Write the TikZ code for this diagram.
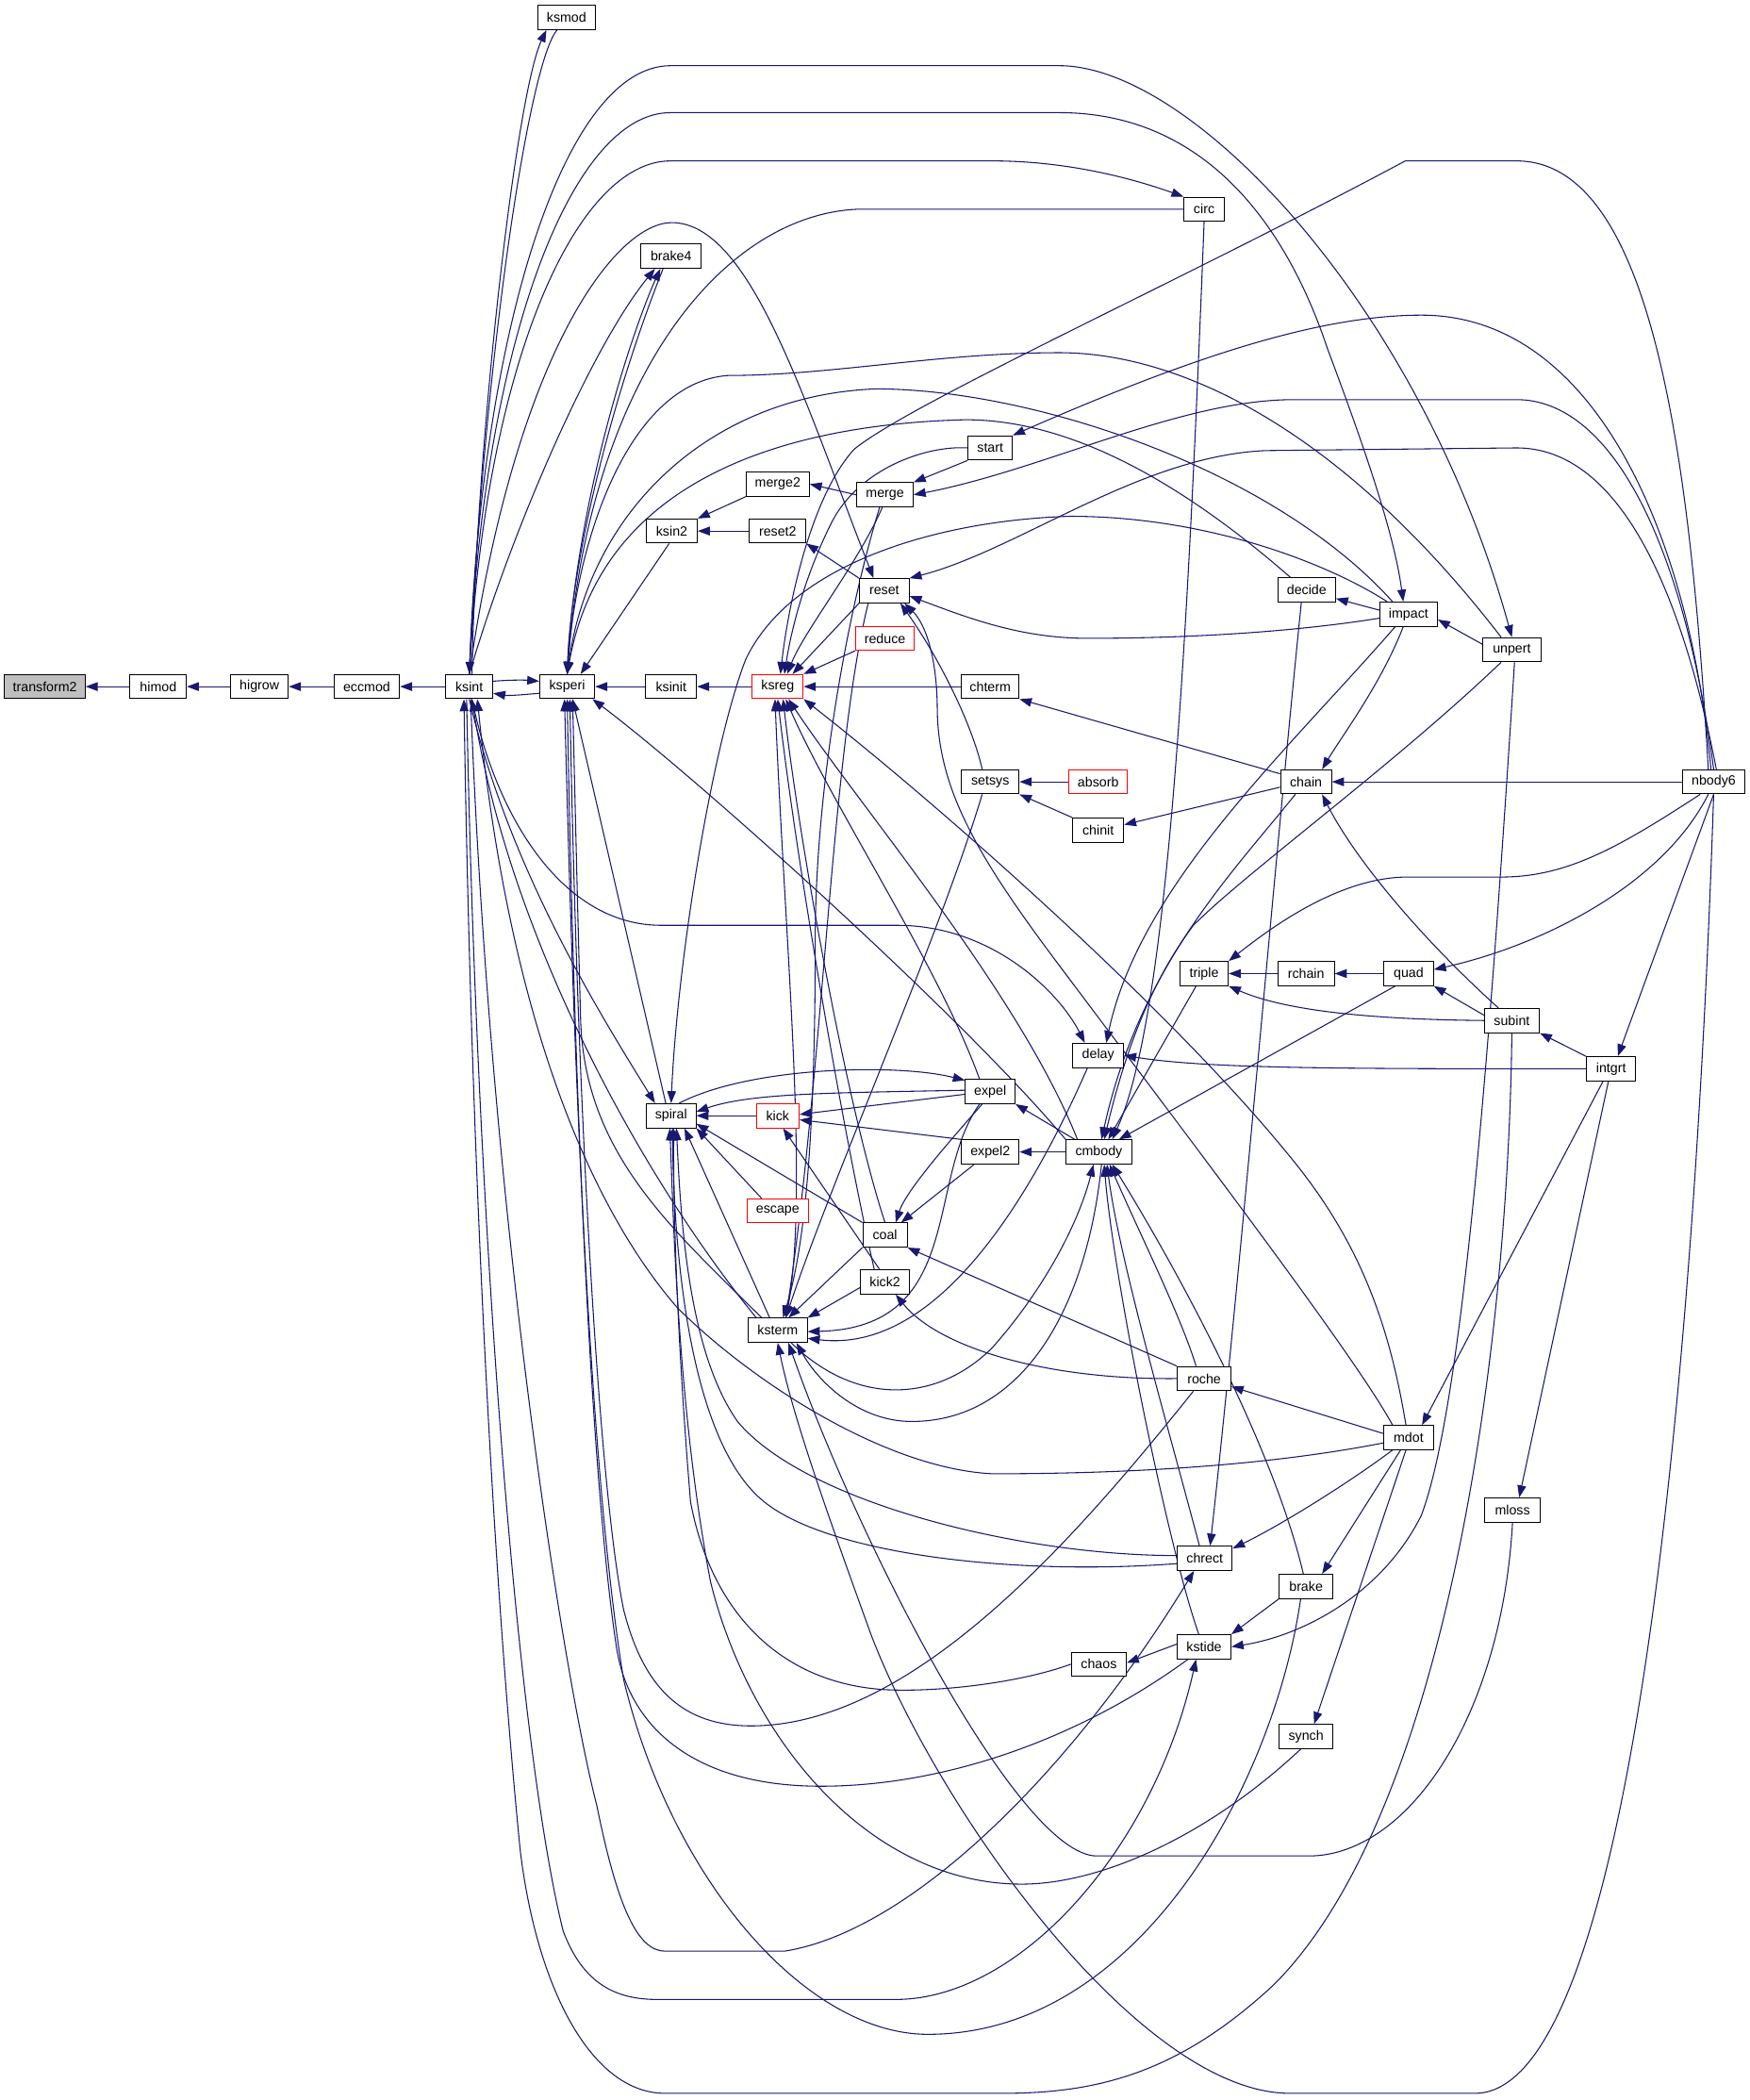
\documentclass[tikz,border=0pt]{standalone}
\usepackage{fontspec}
\setmainfont{Liberation Sans}
\usetikzlibrary{arrows.meta,backgrounds}
\pgfdeclarelayer{bottomlayer}
\pgfsetlayers{bottomlayer,background,main}
\definecolor{eb}{RGB}{25,25,112}
\definecolor{nodegray}{RGB}{191,191,191}
\tikzset{
 fn/.style={draw=black, line width=0.7pt, fill=white, minimum height=18pt, inner sep=0pt, font=\fontsize{10}{11}\selectfont},
 fnred/.style={fn, draw=red},
 fncur/.style={fn, fill=nodegray},
 e/.style={draw=eb, line width=0.75pt, -{Triangle[length=9pt,width=6.5pt]}},
}
\begin{document}
\begin{tikzpicture}[x=1pt,y=-1pt]
\useasboundingbox (0,0) rectangle (1305,1566);
\begin{pgfonlayer}{bottomlayer}
\fill[white] (0,0) rectangle (1305,1566);
\end{pgfonlayer}
% ---------------- nodes ----------------
\node[fncur, minimum width=60pt] (transform2) at (33.5,512) {transform2};
\node[fn, minimum width=42pt] (himod) at (118,512) {himod};
\node[fn, minimum width=43pt] (higrow) at (193.5,512) {higrow};
\node[fn, minimum width=49pt] (eccmod) at (273.5,512) {eccmod};
\node[fn, minimum width=35pt] (ksint) at (350,512) {ksint};
\node[fn, minimum width=41pt] (ksperi) at (423,512) {ksperi};
\node[fn, minimum width=38pt] (ksinit) at (500.5,512) {ksinit};
\node[fnred, minimum width=38pt] (ksreg) at (580,512) {ksreg};
\node[fn, minimum width=43pt] (chterm) at (738.5,512) {chterm};
\node[fn, minimum width=43pt] (ksmod) at (422.5,13) {ksmod};
\node[fn, minimum width=45pt] (brake4) at (500.5,191) {brake4};
\node[fn, minimum width=30pt] (circ) at (898,156) {circ};
\node[fn, minimum width=47pt] (merge2) at (580,361) {merge2};
\node[fn, minimum width=38pt] (ksin2) at (501,396) {ksin2};
\node[fn, minimum width=42pt] (reset2) at (580,396) {reset2};
\node[fn, minimum width=33pt] (start) at (738.5,334) {start};
\node[fn, minimum width=42pt] (merge) at (660,369) {merge};
\node[fn, minimum width=37pt] (reset) at (659.5,440.5) {reset};
\node[fnred, minimum width=44pt] (reduce) at (660,476) {reduce};
\node[fn, minimum width=43pt] (decide) at (974.5,440) {decide};
\node[fn, minimum width=43pt] (impact) at (1050.5,458) {impact};
\node[fn, minimum width=43pt] (unpert) at (1127.5,484.5) {unpert};
\node[fn, minimum width=43pt] (setsys) at (738.5,583) {setsys};
\node[fnred, minimum width=44pt] (absorb) at (819,583) {absorb};
\node[fn, minimum width=38pt] (chinit) at (819,619) {chinit};
\node[fn, minimum width=38pt] (chain) at (974,583) {chain};
\node[fn, minimum width=46pt] (nbody6) at (1278,583) {nbody6};
\node[fn, minimum width=36pt] (triple) at (898,726) {triple};
\node[fn, minimum width=42pt] (rchain) at (974,726) {rchain};
\node[fn, minimum width=37pt] (quad) at (1050.5,726) {quad};
\node[fn, minimum width=41pt] (subint) at (1127.5,761) {subint};
\node[fn, minimum width=38pt] (delay) at (819,787) {delay};
\node[fn, minimum width=37pt] (intgrt) at (1201.5,797) {intgrt};
\node[fn, minimum width=37pt] (spiral) at (500.5,832) {spiral};
\node[fnred, minimum width=32pt] (kick) at (580,832) {kick};
\node[fn, minimum width=37pt] (expel) at (738.5,814) {expel};
\node[fn, minimum width=43pt] (expel2) at (738.5,859) {expel2};
\node[fn, minimum width=49pt] (cmbody) at (819.5,859) {cmbody};
\node[fnred, minimum width=46pt] (escape) at (580,903) {escape};
\node[fn, minimum width=33pt] (coal) at (660,921) {coal};
\node[fn, minimum width=36pt] (kick2) at (660,956) {kick2};
\node[fn, minimum width=44pt] (ksterm) at (580,992) {ksterm};
\node[fn, minimum width=40pt] (roche) at (898,1028) {roche};
\node[fn, minimum width=37pt] (mdot) at (1050.5,1072) {mdot};
\node[fn, minimum width=41pt] (mloss) at (1128,1126) {mloss};
\node[fn, minimum width=41pt] (chrect) at (898.5,1162) {chrect};
\node[fn, minimum width=40pt] (brake) at (974,1183) {brake};
\node[fn, minimum width=40pt] (kstide) at (898,1228) {kstide};
\node[fn, minimum width=41pt] (chaos) at (819.5,1241) {chaos};
\node[fn, minimum width=40pt] (synch) at (974,1295) {synch};
% ---------------- edges ----------------
\begin{scope}[on background layer]
% main chain
\draw[e] (himod) -- (transform2);
\draw[e] (higrow) -- (himod);
\draw[e] (eccmod) -- (higrow);
\draw[e] (ksint) -- (eccmod);
\draw[e] (ksinit) -- (ksperi);
\draw[e] (ksreg) -- (ksinit);
\draw[e] (chterm) -- (ksreg);
\draw[e] ([yshift=4pt]ksint.east) .. controls (380,507) and (390,507) .. ([yshift=4pt]ksperi.west);
\draw[e] ([yshift=-5pt]ksperi.west) .. controls (390,518) and (380,519) .. ([yshift=-5pt]ksint.east);
% ksmod
\draw[e] ([xshift=2pt]ksint.north) .. controls (355,330) and (385,70) .. ([xshift=-15pt]ksmod.south);
\draw[e] ([xshift=-7pt]ksmod.south) .. controls (395,45) and (362,260) .. (ksint.north);
% long top curves from ksint
\draw[e] (ksint.north) .. controls (358,250) and (420,49) .. (500,49) -- (790,49) .. controls (890,49) and (1060,230) .. (unpert.north);
\draw[e] (ksint.north) .. controls (360,260) and (425,84) .. (500,84) -- (790,84) .. controls (900,84) and (960,170) .. (990,260) .. controls (1020,340) and (1040,400) .. ([xshift=-4pt]impact.north);
\draw[e] (ksint.north) .. controls (362,270) and (430,120) .. (500,120) -- (740,120) .. controls (800,120) and (850,135) .. (circ.north west);
\draw[e] (circ.west) -- (640,156) .. controls (540,160) and (440,280) .. (ksperi.north);
\draw[e] (ksint.north) .. controls (385,260) and (460,166) .. (501,166) .. controls (560,166) and (600,300) .. ([xshift=-8pt]reset.north);
\draw[e] (ksint.north) .. controls (380,400) and (440,260) .. ([xshift=-12pt]brake4.south);
\draw[e] (ksperi.north) .. controls (428,380) and (470,250) .. ([xshift=-8pt]brake4.south);
\draw[e] ([xshift=-6pt]brake4.south) .. controls (455,300) and (426,420) .. (ksperi.north);
% curves into ksperi top
\draw[e] ([xshift=-8pt]unpert.north) .. controls (1000,320) and (880,263) .. (790,263) .. controls (700,263) and (620,280) .. (543,280) .. controls (470,285) and (430,400) .. (ksperi.north);
\draw[e] ([xshift=-12pt]impact.north) .. controls (950,350) and (770,290) .. (653,290) .. controls (530,295) and (440,380) .. (ksperi.north);
\draw[e] ([xshift=-12pt]decide.north) .. controls (870,350) and (790,313) .. (720,313) .. controls (600,316) and (450,350) .. (ksperi.north);
\draw[e] ([xshift=-16pt]impact.north) .. controls (990,420) and (900,385) .. (798,385) .. controls (700,388) and (590,420) .. (556,492) .. controls (530,560) and (505,720) .. (spiral.north);
\draw[e] ([xshift=-2pt]ksin2.south) -- ([xshift=10pt]ksperi.north);
% nbody6 top curves
\draw[e] ([xshift=-4pt]nbody6.north) .. controls (1260,330) and (1230,120) .. (1131,120) -- (1048,120) .. controls (880,210) and (680,300) .. (637,335) .. controls (605,370) and (588,450) .. ([xshift=2pt]ksreg.north);
\draw[e] ([xshift=-2pt]nbody6.north) .. controls (1260,400) and (1190,235) .. (1060,235) .. controls (980,235) and (880,270) .. (start.north east);
\draw[e] (nbody6.north) .. controls (1255,400) and (1200,298) .. (1131,298) -- (965,298) .. controls (880,298) and (780,350) .. (merge.east);
\draw[e] ([xshift=2pt]nbody6.north) .. controls (1250,420) and (1200,334) .. (1131,334) -- (944,336) .. controls (850,340) and (760,410) .. (reset.north east);
% start / merge / reset group
\draw[e] (start.west) .. controls (690,332) and (640,350) .. (620,390) .. controls (600,430) and (590,470) .. ([xshift=5pt]ksreg.north);
\draw[e] (start.south west) -- (merge.north east);
\draw[e] (merge.west) -- (merge2.east);
\draw[e] (merge2.south west) -- (ksin2.north east);
\draw[e] (reset2) -- (ksin2);
\draw[e] (reset.north west) -- (reset2.south east);
\draw[e] ([xshift=-2pt]merge.south) .. controls (640,420) and (600,470) .. ([xshift=7pt]ksreg.north);
\draw[e] (reset.south west) -- ([xshift=11pt]ksreg.north);
\draw[e] (reduce.south west) -- (ksreg.north east);
\draw[e] ([yshift=-3pt]impact.west) .. controls (960,472) and (880,476) .. (811,476) .. controls (760,476) and (720,460) .. ([yshift=-4pt]reset.east);
\draw[e] ([yshift=3pt]impact.west) -- ([yshift=3pt]decide.south east);
\draw[e] ([yshift=4pt]unpert.west) -- ([yshift=-4pt]impact.east);
% setsys / chain
\draw[e] (absorb) -- (setsys);
\draw[e] (chinit.north west) -- (setsys.south east);
\draw[e] ([yshift=-4pt]chain.west) -- ([yshift=4pt]chinit.east);
\draw[e] (nbody6) -- (chain);
\draw[e] ([yshift=6pt]chain.west) -- (chterm.south east);
\draw[e] ([xshift=-4pt]impact.south) .. controls (1030,510) and (1000,550) .. ([xshift=12pt]chain.north);
\draw[e] ([xshift=-10pt]subint.north) .. controls (1060,700) and (1010,640) .. ([xshift=12pt]chain.south);
% into cmbody top / delay
\draw[e] (circ.south) .. controls (885,500) and (870,760) .. ([xshift=10pt]cmbody.north);
\draw[e] ([xshift=-10pt]impact.south) .. controls (960,560) and (850,660) .. ([xshift=6pt]delay.north);
\draw[e] ([xshift=-8pt]unpert.south) .. controls (1040,570) and (930,650) .. (890,690) .. controls (860,730) and (840,780) .. ([xshift=4pt]cmbody.north);
\draw[e] ([xshift=-8pt]chain.south) .. controls (920,650) and (850,720) .. ([xshift=2pt]cmbody.north);
\draw[e] ([xshift=-6pt]triple.south) -- ([xshift=7pt]cmbody.north);
\draw[e] ([xshift=-10pt]quad.south) -- ([xshift=15pt]cmbody.north);
% triple / quad / subint / intgrt
\draw[e] (rchain) -- (triple);
\draw[e] (quad) -- (rchain);
\draw[e] (subint.west) .. controls (1000,760) and (950,750) .. (triple.south east);
\draw[e] ([yshift=4pt]subint.west) -- (quad.south east);
\draw[e] (intgrt.north west) -- (subint.south east);
\draw[e] (intgrt.west) .. controls (1000,797) and (900,797) .. (delay.east);
\draw[e] ([xshift=-10pt]nbody6.south) .. controls (1210,630) and (1170,654) .. (1120,654) -- (1050,654) .. controls (1000,654) and (950,690) .. (triple.north east);
\draw[e] ([xshift=-4pt]nbody6.south) .. controls (1240,660) and (1150,705) .. ([yshift=3pt]quad.east);
\draw[e] (nbody6.south) -- ([xshift=5pt]intgrt.north);
\draw[e] ([xshift=-6pt]intgrt.south) -- ([xshift=10pt]mdot.north);
\draw[e] ([xshift=-2pt]intgrt.south) -- ([xshift=5pt]mloss.north);
% reset / ksreg from below right
\draw[e] ([xshift=-6pt]setsys.north) .. controls (725,540) and (700,490) .. ([xshift=12pt]reset.south);
\draw[e] ([xshift=-12pt]mdot.north) .. controls (1010,1010) and (880,840) .. (790,720) .. controls (730,640) and (700,590) .. (699,530) .. controls (699,490) and (690,465) .. ([xshift=15pt]reset.south);
\draw[e] ([xshift=-2pt]mdot.north) .. controls (1035,980) and (1010,920) .. (960,860) .. controls (870,750) and (700,600) .. (ksreg.south east);
\draw[e] (coal.north) .. controls (630,820) and (595,620) .. ([xshift=4pt]ksreg.south);
\draw[e] ([xshift=-8pt]expel.north) .. controls (700,720) and (620,600) .. ([xshift=6pt]ksreg.south);
\draw[e] ([xshift=-16pt]cmbody.north) .. controls (760,740) and (640,600) .. ([xshift=8pt]ksreg.south);
\draw[e] ([xshift=-8pt]kick2.north) .. controls (630,850) and (595,650) .. (ksreg.south);
\draw[e] ([xshift=6pt]ksterm.north) .. controls (605,900) and (585,700) .. ([xshift=-2pt]ksreg.south);
% ksterm top
\draw[e] (coal.south west) -- ([xshift=8pt]ksterm.north);
\draw[e] ([yshift=-4pt]kick2.west) -- (ksterm.north east);
\draw[e] ([xshift=-6pt]setsys.south) .. controls (700,700) and (620,880) .. ([xshift=6pt]ksterm.north);
\draw[e] ([xshift=-4pt]merge.south) .. controls (628,470) and (608,600) .. (608,700) .. controls (608,850) and (600,930) .. ([xshift=4pt]ksterm.north);
\draw[e] ([xshift=-12pt]reset.south) .. controls (620,560) and (614,800) .. ([xshift=6pt]ksterm.north);
\draw[e] ([xshift=-8pt]expel.south) .. controls (690,880) and (720,990) .. ([yshift=-1pt]ksterm.east);
\draw[e] ([xshift=-8pt]delay.south) .. controls (770,890) and (700,1010) .. ([yshift=-6pt]ksterm.east);
% coal / kick / spiral group
\draw[e] ([xshift=-6pt]expel.south) .. controls (700,860) and (675,890) .. ([xshift=8pt]coal.north);
\draw[e] ([xshift=-12pt]expel2.south) -- ([xshift=12pt]coal.north);
\draw[e] (roche.north west) -- (coal.south east);
\draw[e] (roche.west) .. controls (780,1029) and (700,1005) .. ([xshift=8pt]kick2.south);
\draw[e] ([xshift=-4pt]kick2.north) -- ([xshift=4pt]kick.south);
\draw[e] ([yshift=-2pt]expel.west) -- ([yshift=1pt]kick.east);
\draw[e] (expel2.north west) -- ([yshift=-3pt]kick.east);
\draw[e] (kick) -- (spiral);
\draw[e] ([xshift=-12pt]escape.north) -- (spiral.south east);
\draw[e] (coal.north west) -- ([yshift=-6pt]spiral.east);
\draw[e] ([xshift=-6pt]ksterm.north) -- ([xshift=10pt]spiral.south);
\draw[e] ([xshift=6pt]spiral.north) .. controls (560,795) and (670,793) .. ([yshift=-1pt]expel.north west);
\draw[e] ([yshift=1pt]expel.west) .. controls (620,815) and (560,815) .. ([yshift=3pt]spiral.east);
\draw[e] ([xshift=-4pt]spiral.north) -- ([xshift=4pt]ksperi.south);
\draw[e] (ksint.south) .. controls (380,650) and (450,760) .. ([xshift=-12pt]spiral.north);
\draw[e] (cmbody.north west) .. controls (720,760) and (520,580) .. ([xshift=-2pt]ksperi.south east);
\draw[e] ([xshift=-18pt]cmbody.north) -- (expel.south east);
\draw[e] (cmbody) -- (expel2);
% delay from ksint
\draw[e] ([xshift=2pt]ksint.south) .. controls (370,610) and (420,690) .. (493,690) -- (669,690) .. controls (740,690) and (790,740) .. ([xshift=-10pt]delay.north);
% ksterm to ksint/ksperi
\draw[e] ([xshift=-16pt]ksterm.north) .. controls (480,880) and (380,700) .. ([xshift=2pt]ksint.south);
\draw[e] ([xshift=-12pt]ksterm.north) .. controls (500,915) and (436,860) .. (433,760) .. controls (430,650) and (428,560) .. ([xshift=4pt]ksperi.south);
% cmbody <-> ksterm
\draw[e] ([xshift=10pt]ksterm.south) .. controls (640,1050) and (700,1045) .. (740,1005) .. controls (780,960) and (805,910) .. ([xshift=-4pt]cmbody.south);
\draw[e] ([xshift=2pt]cmbody.south) .. controls (810,980) and (760,1060) .. (680,1060) .. controls (640,1060) and (610,1030) .. ([xshift=14pt]ksterm.south);
% mdot -> ksint
\draw[e] ([yshift=-4pt]mdot.west) .. controls (950,1092) and (850,1099) .. (740,1099) .. controls (660,1095) and (560,1030) .. (505,975) .. controls (440,900) and (380,760) .. ([xshift=6pt]ksint.south);
% lower right group
\draw[e] ([xshift=-4pt]decide.south) .. controls (950,650) and (925,950) .. ([xshift=4pt]chrect.north);
\draw[e] ([xshift=-12pt]mdot.south) .. controls (1000,1110) and (950,1140) .. ([yshift=-2pt]chrect.north east);
\draw[e] ([xshift=-6pt]mdot.south) -- ([xshift=12pt]brake.north);
\draw[e] ([xshift=-2pt]mdot.south) -- ([xshift=6pt]synch.north);
\draw[e] ([yshift=3pt]mdot.west) -- ([yshift=-6pt]roche.east);
\draw[e] (brake.south west) -- (kstide.north east);
\draw[e] ([yshift=2pt]kstide.west) -- ([yshift=1pt]chaos.east);
\draw[e] ([xshift=2pt]unpert.south) .. controls (1110,800) and (1090,1050) .. (1060,1130) .. controls (1030,1190) and (970,1220) .. (kstide.east);
% into cmbody bottom
\draw[e] ([xshift=-4pt]kstide.north) .. controls (870,1150) and (830,950) .. ([xshift=4pt]cmbody.south);
\draw[e] ([xshift=-4pt]chrect.north) .. controls (870,1060) and (835,940) .. ([xshift=6pt]cmbody.south);
\draw[e] ([xshift=-6pt]roche.north) .. controls (880,980) and (850,920) .. ([xshift=8pt]cmbody.south);
\draw[e] ([xshift=-2pt]brake.north) .. controls (950,1080) and (880,950) .. ([xshift=10pt]cmbody.south);
% chrect left to spiral
\draw[e] ([yshift=2pt]chrect.west) .. controls (760,1160) and (600,1120) .. (550,1060) .. controls (515,1010) and (508,920) .. ([xshift=4pt]spiral.south);
\draw[e] ([yshift=-4pt]chrect.west) .. controls (760,1175) and (620,1160) .. (570,1120) .. controls (520,1080) and (503,960) .. ([xshift=1pt]spiral.south);
% big lower U-curves
\draw[e] (subint.south) .. controls (1125,1000) and (1080,1350) .. (950,1480) .. controls (880,1545) and (820,1561) .. (748,1561) -- (496,1561) .. controls (440,1561) and (400,1480) .. (388,1380) .. controls (370,1200) and (352,900) .. ([xshift=-4pt]ksint.south);
\draw[e] ([xshift=-2pt]ksint.south) .. controls (355,900) and (385,1300) .. (420,1440) .. controls (435,1480) and (460,1491) .. (490,1491) -- (668,1491) .. controls (760,1491) and (860,1380) .. ([xshift=-6pt]kstide.south);
\draw[e] ([xshift=1pt]ksint.south) .. controls (365,900) and (420,1250) .. (445,1346) .. controls (460,1420) and (475,1455) .. (496,1455) -- (585,1455) .. controls (680,1440) and (800,1320) .. ([xshift=-8pt]chrect.south);
\draw[e] ([xshift=-4pt]brake.south) .. controls (950,1330) and (850,1517) .. (692,1517) .. controls (600,1517) and (500,1400) .. (465,1252) .. controls (440,1100) and (428,800) .. ([xshift=-2pt]ksperi.south);
\draw[e] ([xshift=-12pt]kstide.south) .. controls (800,1300) and (700,1332) .. (612,1332) .. controls (520,1332) and (470,1290) .. (460,1230) .. controls (440,1100) and (428,800) .. (ksperi.south);
\draw[e] ([xshift=-8pt]roche.south) .. controls (800,1150) and (680,1287) .. (560,1287) .. controls (510,1287) and (480,1260) .. (465,1200) .. controls (445,1100) and (430,800) .. ([xshift=2pt]ksperi.south);
\draw[e] (chaos.west) .. controls (760,1255) and (700,1262) .. (660,1260) .. controls (580,1255) and (530,1200) .. (515,1120) .. controls (505,1000) and (502,900) .. ([xshift=2pt]spiral.south);
\draw[e] ([xshift=-4pt]synch.south) .. controls (900,1370) and (820,1405) .. (762,1405) .. controls (650,1405) and (560,1300) .. (530,1180) .. controls (505,1050) and (502,900) .. ([xshift=-1pt]spiral.south);
\draw[e] (mloss.south) .. controls (1120,1280) and (1050,1384) .. (976,1384) -- (818,1384) .. controls (760,1384) and (640,1150) .. ([xshift=8pt]ksterm.south);
\draw[e] (nbody6.south) .. controls (1268,900) and (1230,1561) .. (1100,1561) -- (962,1561) .. controls (850,1561) and (700,1350) .. (650,1220) .. controls (610,1110) and (590,1050) .. (ksterm.south);
\end{scope}
\end{tikzpicture}
\end{document}
